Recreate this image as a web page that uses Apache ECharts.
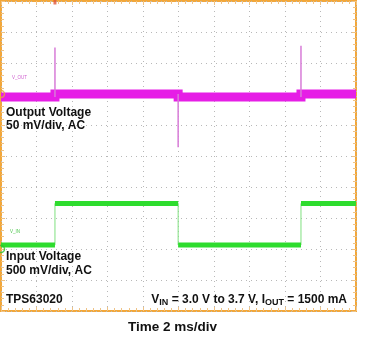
<!DOCTYPE html>
<html><head><meta charset="utf-8">
<script src="https://cdn.jsdelivr.net/npm/echarts@6/dist/echarts.min.js"></script>
<style>html,body{margin:0;padding:0;background:#fff}#c{width:371px;height:338px}</style>
</head><body><div id="c"></div>
<script>
// ---- data ----
const timeSpanMs = 20;            // 10 div x 2 ms/div
const timeDivMs = 2;
const halfDivs = 5;               // vertical screen: -5..5 div
const eventTimesMs = [3.04, 9.98, 16.9];     // input step instants
const vinLevelsV = [3.0, 3.67, 3.0, 3.67];    // input voltage per segment
const voutLevelsMv = [-5, 0, -5, 0];          // output ripple level per segment (AC)
const voutSpikesMv = [75, -86, 78];           // transient peaks at each step
// channel display settings
const voutMvPerDiv = 50, voutRefDiv = 2;
const vinVPerDiv = 0.5, vinRefDiv = -3, vinRefV = 2.935;

const voutDiv = mv => voutRefDiv + mv / voutMvPerDiv;
const vinDiv = v => vinRefDiv + (v - vinRefV) / vinVPerDiv;
const bounds = [0, ...eventTimesMs, timeSpanMs];

const voutBand = [];
voutLevelsMv.forEach((mv, i) => { voutBand.push([bounds[i], voutDiv(mv)], [bounds[i + 1], voutDiv(mv)]); });
const voutSpikes = [];
eventTimesMs.forEach((t, i) => {
  voutSpikes.push([t, voutDiv(voutLevelsMv[i])], [t, voutDiv(voutSpikesMv[i])], [t, voutDiv(voutLevelsMv[i + 1])], [t, '-']);
});
const vinBand = [];
vinLevelsV.forEach((v, i) => { vinBand.push([bounds[i], vinDiv(v)], [bounds[i + 1], vinDiv(v)], [bounds[i + 1], '-']); });
const vinEdge = [];
vinLevelsV.forEach((v, i) => { vinEdge.push([bounds[i], vinDiv(v)], [bounds[i + 1], vinDiv(v)]); });

const FONT = '"Liberation Sans", Arial, sans-serif';
const gridLine = { show: true, lineStyle: { color: '#b8b8b8', type: [1, 4], width: 1 } };
const tickLine = { color: '#efc386', width: 1 };
function xAx(pos, split) {
  return { type: 'value', min: 0, max: timeSpanMs, interval: timeDivMs, position: pos,
    axisLine: { show: false, onZero: false }, axisLabel: { show: false },
    axisTick: { show: true, inside: true, length: 4, lineStyle: tickLine },
    minorTick: { show: true, splitNumber: 5, length: 3, lineStyle: tickLine },
    splitLine: split ? gridLine : { show: false } };
}
function yAx(pos, split) {
  return { type: 'value', min: -halfDivs, max: halfDivs, interval: 1, position: pos,
    axisLine: { show: false, onZero: false }, axisLabel: { show: false },
    axisTick: { show: true, inside: true, length: 4, lineStyle: tickLine },
    minorTick: { show: true, splitNumber: 5, length: 3, lineStyle: tickLine },
    splitLine: split ? gridLine : { show: false } };
}
function label(text, x, y, size, extra) {
  return { type: 'text', x: x, y: y, z: 100,
    style: Object.assign({ text: text, fontFamily: FONT, fontWeight: 'bold', fontSize: size, fill: '#111', textVerticalAlign: 'middle' }, extra || {}) };
}
const chart = echarts.init(document.getElementById('c'), null, { renderer: 'canvas' });
chart.setOption({
  animation: false,
  backgroundColor: '#ffffff',
  grid: { left: 1, right: 15, top: 1, bottom: 27, show: true, borderColor: '#F2A73A', borderWidth: 2, backgroundColor: '#fff' },
  xAxis: [xAx('bottom', true), xAx('top', false)],
  yAxis: [yAx('left', true), yAx('right', false)],
  series: [
    { type: 'line', data: vinEdge, symbol: 'none', lineStyle: { color: '#7fe07f', width: 1 }, z: 2 },
    { type: 'line', data: vinBand, symbol: 'none', connectNulls: false, lineStyle: { color: '#2EDC2E', width: 5, cap: 'butt' }, z: 3 },
    { type: 'line', data: voutBand, symbol: 'none', lineStyle: { color: '#E61EE6', width: 9, cap: 'butt', join: 'miter' }, z: 4 },
    { type: 'line', data: voutSpikes, symbol: 'none', connectNulls: false, lineStyle: { color: '#D77CD7', width: 1.5 }, z: 5 },
    { type: 'scatter', data: [[0, voutRefDiv]], symbol: 'circle', symbolSize: 7, clip: false,
      itemStyle: { color: 'rgba(0,0,0,0)', borderColor: '#E8A63A', borderWidth: 1.5 }, z: 6 },
    { type: 'scatter', data: [[0, vinRefDiv]], symbol: 'circle', symbolSize: 7, clip: false,
      itemStyle: { color: 'rgba(0,0,0,0)', borderColor: '#2EC42E', borderWidth: 1.5 }, z: 6 },
    { type: 'scatter', data: [[eventTimesMs[0], halfDivs]], symbol: 'rect', symbolSize: [3, 5], symbolOffset: [0, 1], clip: false,
      itemStyle: { color: '#E0563A' }, z: 6 }
  ],
  graphic: [
    { type: 'text', x: 12, y: 78, style: { text: 'V_OUT', fontFamily: FONT, fontSize: 4.5, fill: '#D060D0', textVerticalAlign: 'middle' } },
    { type: 'text', x: 10, y: 232, style: { text: 'V_IN', fontFamily: FONT, fontSize: 4.5, fill: '#50C850', textVerticalAlign: 'middle' } },
    label('Output Voltage', 6, 112.5, 12),
    label('50 mV/div, AC', 6, 126, 12),
    label('Input Voltage', 6, 257, 12),
    label('500 mV/div, AC', 6, 270.5, 12),
    label('TPS63020', 6, 299.5, 12),
    { type: 'text', x: 347, y: 300, z: 100, style: {
        text: '{n|V}{s|IN}{n| = 3.0 V to 3.7 V, I}{s|OUT}{n| = 1500 mA}',
        textAlign: 'right', textVerticalAlign: 'middle',
        rich: {
          n: { fontFamily: FONT, fontWeight: 'bold', fontSize: 12, lineHeight: 14, fill: '#111' },
          s: { fontFamily: FONT, fontWeight: 'bold', fontSize: 9, lineHeight: 6, verticalAlign: 'bottom', fill: '#111' }
        } } },
    label('Time 2 ms/div', 172.5, 327.7, 13.5, { textAlign: 'center' })
  ]
});
</script>
</body></html>
